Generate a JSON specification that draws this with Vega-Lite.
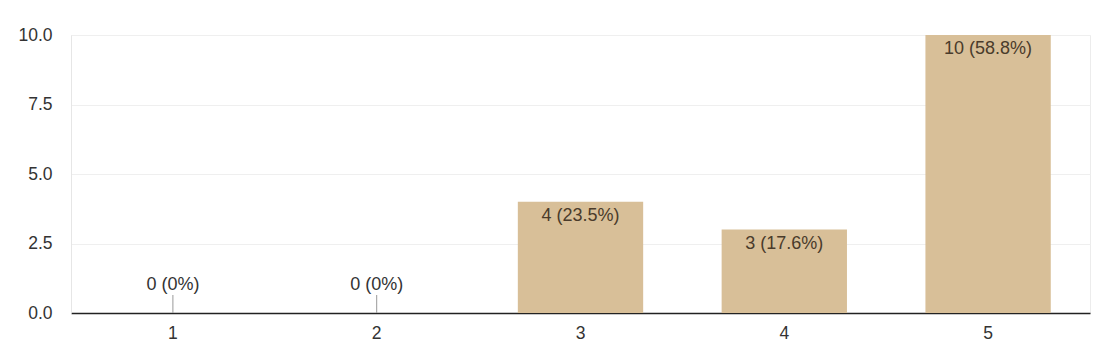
{
  "$schema": "https://vega.github.io/schema/vega-lite/v6.json",
  "width": 1019,
  "height": 278,
  "autosize": {"type": "none"},
  "padding": {"left": 71, "top": 35, "right": 22, "bottom": 41},
  "background": "white",
  "config": {
    "font": "Liberation Sans",
    "view": {"stroke": "#ececec", "strokeWidth": 1}
  },
  "data": {
    "values": [
      {"rating": "1", "count": 0, "label": "0 (0%)"},
      {"rating": "2", "count": 0, "label": "0 (0%)"},
      {"rating": "3", "count": 4, "label": "4 (23.5%)"},
      {"rating": "4", "count": 3, "label": "3 (17.6%)"},
      {"rating": "5", "count": 10, "label": "10 (58.8%)"}
    ]
  },
  "encoding": {
    "x": {
      "field": "rating",
      "type": "ordinal",
      "scale": {"paddingInner": 0.385, "paddingOuter": 0.1925},
      "axis": {
        "title": null,
        "labelAngle": 0,
        "ticks": false,
        "labelPadding": 11,
        "labelFontSize": 17.5,
        "labelColor": "#333333",
        "domainColor": "#222222",
        "domainWidth": 1.5,
        "grid": false
      }
    },
    "y": {
      "field": "count",
      "type": "quantitative",
      "scale": {"domain": [0, 10], "nice": false},
      "axis": {
        "title": null,
        "values": [0, 2.5, 5, 7.5, 10],
        "format": ".1f",
        "ticks": false,
        "labelPadding": 19,
        "labelFontSize": 17.5,
        "labelColor": "#333333",
        "domainColor": "#e6e6e6",
        "gridColor": "#efefef",
        "gridWidth": 1
      }
    }
  },
  "layer": [
    {
      "mark": {"type": "bar", "color": "#d8bf98"}
    },
    {
      "transform": [{"filter": "datum.count == 0"}],
      "mark": {"type": "rule", "color": "#999999", "strokeWidth": 1, "y2Offset": -18},
      "encoding": {"y2": {"field": "count"}}
    },
    {
      "transform": [{"filter": "datum.count > 0"}],
      "mark": {"type": "text", "baseline": "middle", "dy": 14, "fontSize": 18, "color": "#4a3b2b"},
      "encoding": {"text": {"field": "label"}}
    },
    {
      "transform": [{"filter": "datum.count == 0"}],
      "mark": {"type": "text", "baseline": "middle", "dy": -28, "fontSize": 18, "color": "#333333"},
      "encoding": {"text": {"field": "label"}}
    }
  ]
}
